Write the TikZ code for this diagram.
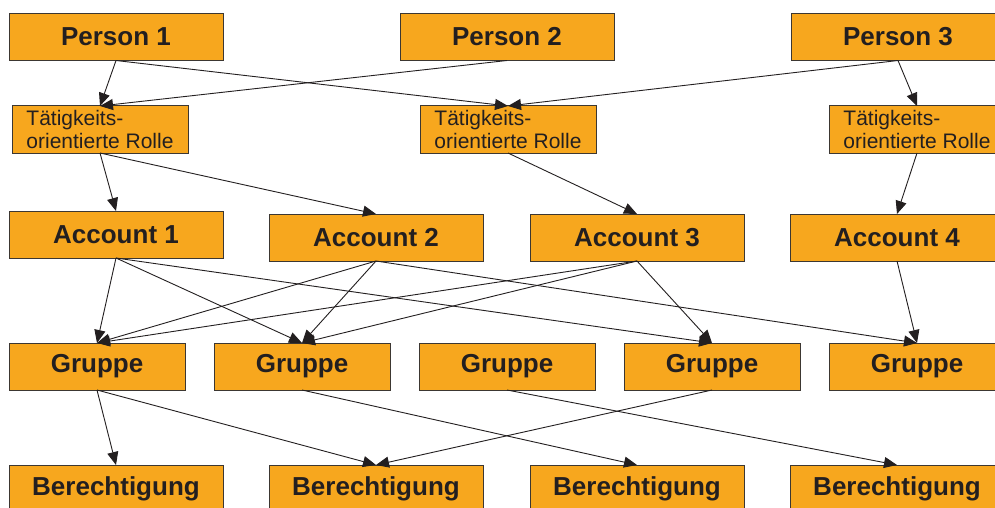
\documentclass[tikz,border=0pt]{standalone}
\usepackage{fontspec}
\setmainfont{Liberation Sans}
\usetikzlibrary{arrows.meta}
\definecolor{boxfill}{RGB}{247,167,30}
\definecolor{boxline}{RGB}{60,55,50}
\definecolor{ink}{RGB}{35,31,32}
\tikzset{
  bigbox/.style={draw=boxline, fill=boxfill, line width=1pt, rectangle,
    minimum width=214pt, minimum height=47pt, inner sep=0pt, outer sep=0pt,
    text=ink, font=\fontsize{26}{30}\selectfont\bfseries},
  grpbox/.style={bigbox, minimum width=176pt},
  rolebox/.style={draw=boxline, fill=boxfill, line width=1pt, rectangle,
    minimum width=176pt, minimum height=47pt, inner sep=0pt, outer sep=0pt,
    text=ink, align=left, font=\fontsize{21}{23.5}\selectfont},
  link/.style={draw=ink, line width=0.9pt, -{Triangle[length=13pt,width=11pt]}}
}
\begin{document}
\begin{tikzpicture}[x=1pt,y=-1pt]
\clip (0,0) rectangle (995,508);
\fill[white] (0,0) rectangle (995,508);

% persons
\node[bigbox] (p1) at (116,37) {Person 1};
\node[bigbox] (p2) at (507,37) {Person 2};
\node[bigbox] (p3) at (898,37) {Person 3};

% activity-oriented roles
\node[rolebox] (r1) at (100,129.5) {Tätigkeits-\\orientierte Rolle};
\node[rolebox] (r2) at (508,129.5) {Tätigkeits-\\orientierte Rolle};
\node[rolebox] (r3) at (917,129.5) {Tätigkeits-\\orientierte Rolle};

% accounts
\node[bigbox] (a1) at (116,234.5) {Account 1};
\node[bigbox] (a2) at (376,237.5) {Account 2};
\node[bigbox] (a3) at (637,237.5) {Account 3};
\node[bigbox] (a4) at (897,237.5) {Account 4};

% groups
\node[grpbox] (g1) at (97,366.5) {Gruppe};
\node[grpbox] (g2) at (302,366.5) {Gruppe};
\node[grpbox] (g3) at (507,366.5) {Gruppe};
\node[grpbox] (g4) at (712,366.5) {Gruppe};
\node[grpbox] (g5) at (917,366.5) {Gruppe};

% permissions
\node[bigbox] (b1) at (116,488.5) {Berechtigung};
\node[bigbox] (b2) at (376,488.5) {Berechtigung};
\node[bigbox] (b3) at (637,488.5) {Berechtigung};
\node[bigbox] (b4) at (897,488.5) {Berechtigung};

% person -> role
\draw[link] (p1.south) -- (r1.north);
\draw[link] (p2.south) -- (r1.north);
\draw[link] (p1.south) -- (r2.north);
\draw[link] (p3.south) -- (r2.north);
\draw[link] (p3.south) -- (r3.north);

% role -> account
\draw[link] (r1.south) -- (a1.north);
\draw[link] (r1.south) -- (a2.north);
\draw[link] (r2.south) -- (a3.north);
\draw[link] (r3.south) -- (a4.north);

% account -> group
\draw[link] (a1.south) -- (g1.north);
\draw[link] (a1.south) -- (g2.north);
\draw[link] (a1.south) -- (g4.north);
\draw[link] (a2.south) -- (g1.north);
\draw[link] (a2.south) -- (g2.north);
\draw[link] (a2.south) -- (g5.north);
\draw[link] (a3.south) -- (g1.north);
\draw[link] (a3.south) -- (g2.north);
\draw[link] (a3.south) -- (g4.north);
\draw[link] (a4.south) -- (g5.north);

% group -> permission
\draw[link] (g1.south) -- (b1.north);
\draw[link] (g1.south) -- (b2.north);
\draw[link] (g2.south) -- (b3.north);
\draw[link] (g3.south) -- (b4.north);
\draw[link] (g4.south) -- (b2.north);
\end{tikzpicture}
\end{document}
